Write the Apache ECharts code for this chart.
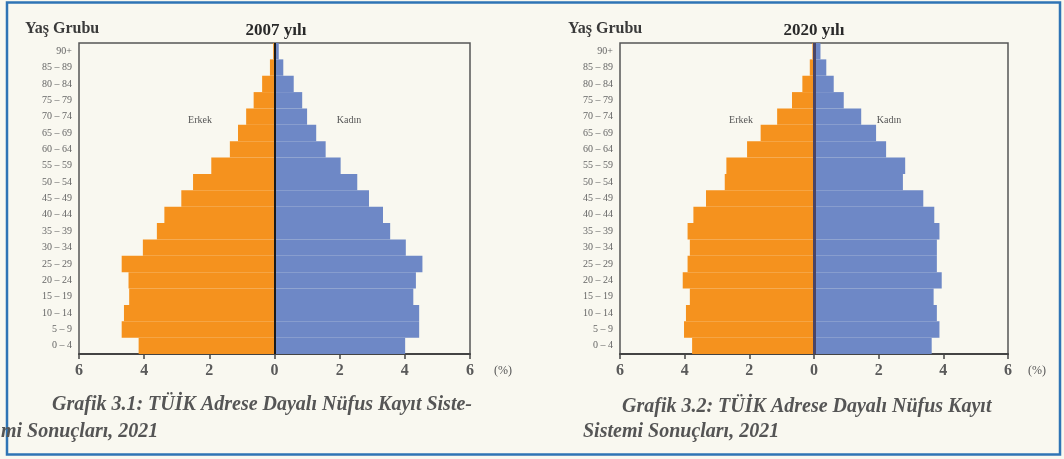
<!DOCTYPE html>
<html>
<head>
<meta charset="utf-8">
<script src="https://cdn.jsdelivr.net/npm/echarts@6/dist/echarts.min.js"></script>
<style>
html,body{margin:0;padding:0;background:#ffffff;}
#c{width:1064px;height:459px;}
</style>
</head>
<body>
<div id="c"></div>
<script>
// Age groups, bottom to top
const ageGroups = ['0 – 4','5 – 9','10 – 14','15 – 19','20 – 24','25 – 29','30 – 34','35 – 39','40 – 44','45 – 49','50 – 54','55 – 59','60 – 64','65 – 69','70 – 74','75 – 79','80 – 84','85 – 89','90+'];
// 2007 (%)
const male2007   = [4.17,4.69,4.62,4.46,4.48,4.69,4.04,3.61,3.38,2.86,2.50,1.94,1.37,1.12,0.87,0.64,0.38,0.14,0.04];
const female2007 = [4.01,4.44,4.44,4.26,4.34,4.54,4.03,3.55,3.33,2.90,2.54,2.03,1.57,1.28,1.00,0.85,0.59,0.27,0.13];
// 2020 (%)
const male2020   = [3.77,4.02,3.96,3.84,4.06,3.91,3.84,3.91,3.73,3.34,2.76,2.71,2.07,1.65,1.14,0.68,0.36,0.13,0.05];
const female2020 = [3.64,3.88,3.80,3.70,3.95,3.80,3.80,3.88,3.72,3.38,2.75,2.82,2.23,1.92,1.46,0.92,0.61,0.38,0.20];
const xTicks = {min:-6, max:6, interval:2};
const titles = ['2007 yılı','2020 yılı'];

const SERIF = '"Liberation Serif","DejaVu Serif",serif';
const ORANGE = '#F5921E';
const BLUE = '#6E88C6';

const chart = echarts.init(document.getElementById('c'));

function xAxisDef(idx){
  return {
    gridIndex: idx, type:'value', min:xTicks.min, max:xTicks.max, interval:xTicks.interval,
    axisLine:{show:true, onZero:false, lineStyle:{color:'#444', width:2}},
    axisTick:{show:true, length:5, lineStyle:{color:'#444', width:1.5}},
    splitLine:{show:false},
    axisLabel:{formatter:v=>String(Math.abs(v)), fontFamily:SERIF, fontSize:16, fontWeight:'bold', color:'#5a5a5a', margin:9}
  };
}
function yAxisDef(idx){
  return {
    gridIndex: idx, type:'category', data: ageGroups,
    axisLine:{show:false}, axisTick:{show:false}, splitLine:{show:false},
    axisLabel:{interval:0, fontFamily:SERIF, fontSize:10, color:'#666', margin:7}
  };
}
function seriesDef(idx, male, female, zeroColor, zeroWidth){
  return [
    {type:'bar', name:'Erkek', xAxisIndex:idx, yAxisIndex:idx, stack:'s'+idx, barCategoryGap:'0%',
     data: male.map(v=>-v), itemStyle:{color:ORANGE}, silent:true},
    {type:'bar', name:'Kadın', xAxisIndex:idx, yAxisIndex:idx, stack:'s'+idx, barCategoryGap:'0%',
     data: female, itemStyle:{color:BLUE}, silent:true,
     markLine:{silent:true, symbol:['none','none'], label:{show:false},
       lineStyle:{type:'solid', color:zeroColor, width:zeroWidth}, data:[{xAxis:0}]}}
  ];
}

function txt(x,y,text,opts){
  return {type:'text', x:x, y:y, silent:true, style:Object.assign({text:text, fontFamily:SERIF, fill:'#333', fontSize:15, textVerticalAlign:'middle'}, opts||{})};
}
const capStyle = {fontSize:20, fontStyle:'italic', fontWeight:'bold', fill:'#555'};

chart.setOption({
  backgroundColor:'#F9F8F0',
  animation:false,
  grid:[
    {left:79, top:43, width:391, height:311, show:true, borderColor:'#555', borderWidth:1.5, backgroundColor:'transparent'},
    {left:620, top:43, width:388, height:311, show:true, borderColor:'#555', borderWidth:1.5, backgroundColor:'transparent'}
  ],
  xAxis:[xAxisDef(0), xAxisDef(1)],
  yAxis:[yAxisDef(0), yAxisDef(1)],
  series:[].concat(seriesDef(0, male2007, female2007, '#1a1a1a', 2), seriesDef(1, male2020, female2020, '#4a4566', 3)),
  graphic:[
    {type:'rect', silent:true, shape:{x:7, y:2.5, width:1053, height:452}, style:{fill:'none', stroke:'#2F74B5', lineWidth:2.5}},
    txt(25, 29, 'Yaş Grubu', {fontSize:16, fontWeight:'bold', fill:'#3a3a3a'}),
    txt(276, 31, titles[0], {fontSize:17, fontWeight:'bold', fill:'#2a2a2a', textAlign:'center'}),
    txt(568, 29, 'Yaş Grubu', {fontSize:16, fontWeight:'bold', fill:'#3a3a3a'}),
    txt(814, 31, titles[1], {fontSize:17, fontWeight:'bold', fill:'#2a2a2a', textAlign:'center'}),
    txt(200, 120, 'Erkek', {fontSize:10, fill:'#555', textAlign:'center'}),
    txt(349, 120, 'Kadın', {fontSize:10, fill:'#555', textAlign:'center'}),
    txt(741, 120, 'Erkek', {fontSize:10, fill:'#555', textAlign:'center'}),
    txt(889, 120, 'Kadın', {fontSize:10, fill:'#555', textAlign:'center'}),
    txt(494, 371, '(%)', {fontSize:12, fill:'#555'}),
    txt(1028, 371, '(%)', {fontSize:12, fill:'#555'}),
    txt(52, 405, 'Grafik 3.1: TÜİK Adrese Dayalı Nüfus Kayıt Siste-', capStyle),
    txt(1, 432, 'mi Sonuçları, 2021', capStyle),
    txt(622, 407, 'Grafik 3.2: TÜİK Adrese Dayalı Nüfus Kayıt', capStyle),
    txt(583, 432, 'Sistemi Sonuçları, 2021', capStyle)
  ]
});
</script>
</body>
</html>
